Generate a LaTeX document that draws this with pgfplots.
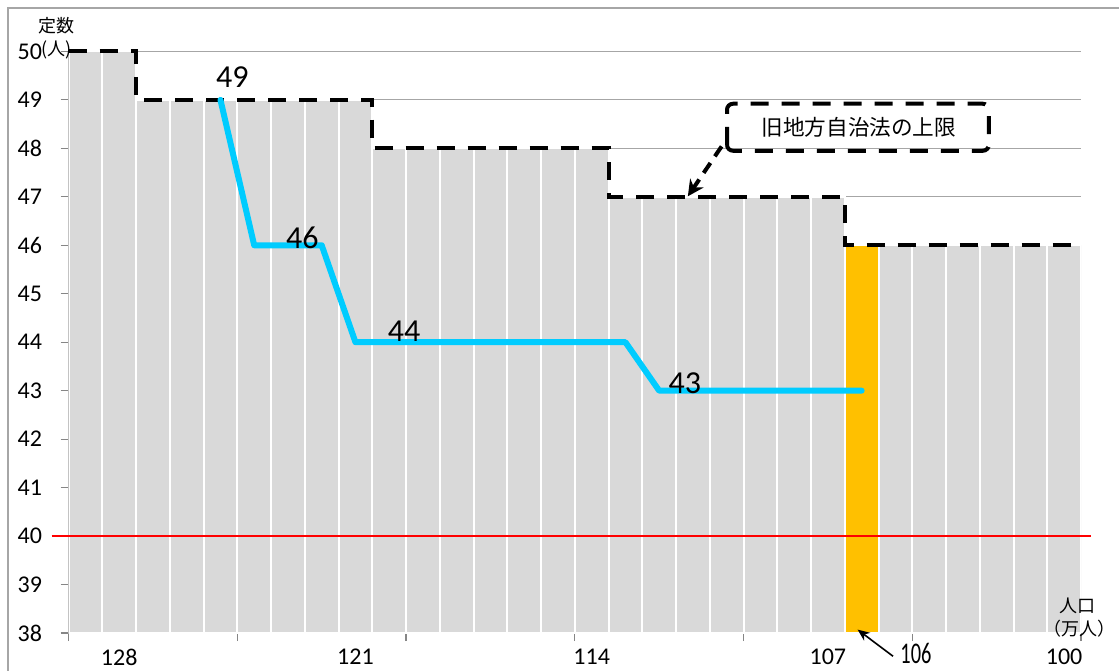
\documentclass[border=0pt]{standalone}
\usepackage{fontspec}
\setmainfont{Carlito}
\newfontfamily\cjk{Noto Sans CJK JP}
\usepackage{graphicx}
\usepackage{pgfplots}
\pgfplotsset{compat=1.18}
\usetikzlibrary{arrows.meta}
\definecolor{barg}{HTML}{D9D9D9}
\definecolor{gridg}{HTML}{A6A6A6}
\definecolor{axisg}{HTML}{868686}
\definecolor{lblue}{RGB}{0,204,255}
\definecolor{orng}{HTML}{FFC000}
\begin{document}
\begin{tikzpicture}
\pgfplotsset{
  base/.style={scale only axis, width=506.2pt, height=290.8pt, at={(0,0)}, anchor=south west,
    xmin=0.5, xmax=30.5, ymin=38, ymax=50}
}
\begin{axis}[base,
  axis x line*=bottom, axis y line*=left,
  axis line style={draw=axisg, line width=0.6pt, -},
  ytick={38,...,50}, ymajorgrids, grid style={draw=gridg, line width=0.6pt},
  xtick={0.5,5.5,...,30.5}, xticklabels={},
  extra x ticks={2,9,16,23,30}, extra x tick labels={128,121,114,107,100},
  extra x tick style={major tick length=0pt, grid=none, xticklabel style={yshift=-4.6pt}},
  tick align=outside, major tick length=4pt, tick style={draw=axisg, line width=0.6pt},
  tick label style={font=\fontsize{12}{14}\selectfont},
  /pgf/number format/assume math mode=true,
  yticklabel style={xshift=-5.8pt},
]
\addplot[ybar, bar width=1, bar shift=0pt, fill=barg, draw=white, line width=1pt] coordinates {
 (1,50) (2,50) (3,49) (4,49) (5,49) (6,49) (7,49) (8,49) (9,49)
 (10,48) (11,48) (12,48) (13,48) (14,48) (15,48) (16,48)
 (17,47) (18,47) (19,47) (20,47) (21,47) (22,47) (23,47)
 (24,46) (25,46) (26,46) (27,46) (28,46) (29,46) (30,46)};
\addplot[ybar, bar width=1, bar shift=0pt, fill=orng, draw=white, line width=1pt] coordinates {(24,46)};
\end{axis}
\begin{axis}[base, hide axis, clip=false]
\addplot[red, line width=1.3pt] coordinates {(0,40) (30.8,40)};
\addplot[black, line width=2pt, dash pattern=on 9pt off 6.5pt, const plot] coordinates {
 (0.5,50) (2.5,49) (9.5,48) (16.5,47) (23.5,46) (30.5,46)};
\addplot[lblue, line width=3pt, line join=round, line cap=round] coordinates {
 (5,49) (6,46) (8,46) (9,44) (17,44) (18,43) (24,43)};
\node[font=\fontsize{16}{19}\selectfont, inner sep=0] at (5.35,49.46) {49};
\node[font=\fontsize{16}{19}\selectfont, inner sep=0] at (7.43,46.16) {46};
\node[font=\fontsize{16}{19}\selectfont, inner sep=0] at (10.44,44.22) {44};
\node[font=\fontsize{16}{19}\selectfont, inner sep=0] at (18.76,43.16) {43};
\draw[black, line width=2pt, dash pattern=on 9pt off 6.5pt, rounded corners=3pt] (20.01,47.95) rectangle (27.77,48.92);
\node[font=\cjk\fontsize{10.8}{13}\selectfont, inner sep=0] at (23.92,48.44) {旧地方自治法の上限};
\draw[black, line width=2pt, dash pattern=on 6pt off 4pt, -{Stealth[length=8pt,width=8pt]}] (19.85,48.04) -- (18.85,47.01);
\node[font=\fontsize{15}{18}\selectfont, inner sep=0] at (25.61,37.57) {\scalebox{0.68}[1]{106}};
\draw[black, line width=0.8pt, -{Stealth[length=6pt,width=5pt]}] (24.93,37.52) -- (23.88,38.07);
\node[font=\cjk\fontsize{9}{11}\selectfont, inner sep=0] at (0.147,50.54) {定数};
\node[font=\cjk\fontsize{9}{11}\selectfont, inner sep=0] at (0.147,50.03) {(人)};
\node[font=\cjk\fontsize{9}{11}\selectfont, inner sep=0] at (30.41,38.56) {人口};
\node[font=\cjk\fontsize{9}{11}\selectfont, inner sep=0] at (30.45,38.08) {（万人）};
\end{axis}
\draw[color=gridg, line width=0.65pt] (-30.3pt,-20pt) -- (-30.3pt,312.5pt) -- (527pt,312.5pt);
\pgfresetboundingbox
\useasboundingbox (-34.3pt,-18.5pt) rectangle (525.2pt,316.5pt);
\end{tikzpicture}
\end{document}
